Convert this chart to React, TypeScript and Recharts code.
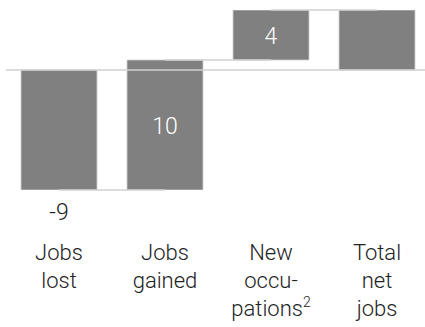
import React from "react";
import { ComposedChart, Bar, XAxis, YAxis, ReferenceLine, LabelList } from "recharts";

const categories = ["Jobs lost", "Jobs gained", "New occupations", "Total net jobs"];
const categoryLines = [
  ["Jobs", "lost"],
  ["Jobs", "gained"],
  ["New", "occu-", "pations"],
  ["Total", "net", "jobs"],
];
const footnotes = ["", "", "2", ""];
const changes = [-9, 9.75, 3.75];
const showLabel = [true, true, true, false];

const FONT = "Roboto, 'Liberation Sans', Arial, sans-serif";

type Row = { name: string; range: [number, number]; label: string; end: number };

const buildData = (): Row[] => {
  const rows: Row[] = [];
  let run = 0;
  changes.forEach((c, i) => {
    const start = run;
    run += c;
    rows.push({ name: categories[i], range: [start, run], label: showLabel[i] ? String(Math.round(c)) : "", end: run });
  });
  rows.push({ name: categories[3], range: [0, run], label: showLabel[3] ? String(Math.round(run)) : "", end: run });
  return rows;
};

const data = buildData();

const CatTick = (props: any) => {
  const { x, y, payload } = props;
  const idx = categories.indexOf(payload.value);
  const lines = categoryLines[idx] || [payload.value];
  const note = footnotes[idx] || "";
  return (
    <text x={x} y={y + 70} textAnchor="middle" fontFamily={FONT} fontWeight={300} fontSize={22} fill="#222">
      {lines.map((l, i) => (
        <tspan key={i} x={x} dy={i === 0 ? 0 : 28}>
          {l}
        </tspan>
      ))}
      {note ? (
        <tspan fontSize={14} dy={-9}>
          {note}
        </tspan>
      ) : null}
    </text>
  );
};

const ValueLabel = (props: any) => {
  const { x, y, width, height, value, index } = props;
  if (!value) return null;
  const top = Math.min(y, y + height);
  const bottom = Math.max(y, y + height);
  const cx = x + width / 2;
  if (index === 0) {
    return (
      <text x={cx} y={bottom + 30} textAnchor="middle" fontFamily={FONT} fontWeight={300} fontSize={23} fill="#222">
        {value}
      </text>
    );
  }
  return (
    <text x={cx} y={(top + bottom) / 2 + 9} textAnchor="middle" fontFamily={FONT} fontWeight={300} fontSize={23} fill="#ffffff">
      {value}
    </text>
  );
};

export default function App() {
  return (
    <div style={{ position: "absolute", left: 0, top: 0, width: 425, height: 327, overflow: "hidden", background: "#fff" }}>
      <ComposedChart width={430} height={327} data={data} margin={{ top: 10, right: 0, left: 6, bottom: 0 }}>
        <YAxis hide domain={[-9, 4.5]} type="number" allowDataOverflow />
        <XAxis
          dataKey="name"
          axisLine={false}
          tickLine={false}
          tickSize={0}
          tickMargin={0}
          height={137}
          interval={0}
          tick={<CatTick />}
        />
        <ReferenceLine y={0} stroke="#d0d0d0" strokeWidth={1.5} ifOverflow="extendDomain" />
        {data.slice(0, -1).map((d, i) => (
          <ReferenceLine
            key={i}
            segment={[
              { x: d.name, y: d.end },
              { x: data[i + 1].name, y: d.end },
            ]}
            stroke="#d0d0d0"
            strokeWidth={1.5}
          />
        ))}
        <Bar dataKey="range" fill="#808080" stroke="#cfcfcf" strokeWidth={0.8} barSize={76} isAnimationActive={false}>
          <LabelList dataKey="label" content={<ValueLabel />} />
        </Bar>
      </ComposedChart>
    </div>
  );
}
